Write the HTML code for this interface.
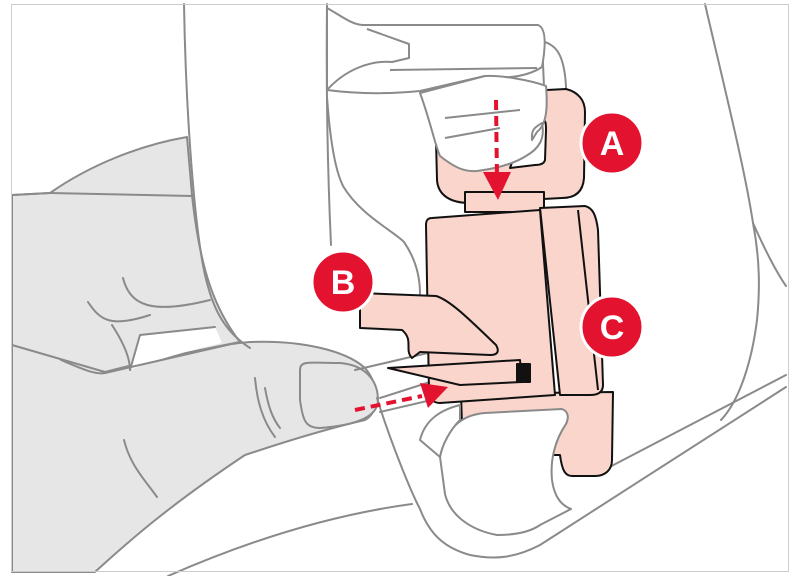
<!DOCTYPE html>
<html><head><style>
html,body{margin:0;padding:0;background:#fff;}
svg{display:block;}
</style></head><body>
<svg width="800" height="576" viewBox="0 0 800 576" xmlns="http://www.w3.org/2000/svg">
<rect x="0" y="0" width="800" height="576" fill="#fff"/>
<!-- hand gray (behind belt) -->
<g stroke="#8a8a8a" stroke-width="2" stroke-linejoin="round" stroke-linecap="round">
  <path fill="#e6e6e6" d="M12 195 L12 572 L95 572 C130 540 170 505 245 455 C290 440 330 428 365 420 C380 412 380 385 365 368 C345 350 300 340 250 342 C210 345 150 360 105 372 L12 340 Z"/>
  <path fill="#e6e6e6" d="M12 195 L12 345 L105 372 C150 360 200 350 240 342 C215 310 200 270 192 195 L187 137 C140 145 90 165 50 193 Z"/>
  <path fill="none" d="M50 193 L192 196"/>
  <path fill="none" d="M12 195 L50 193"/>
  <path fill="#fff" d="M130 370 L140 335 L215 327 L222 343 C200 348 160 358 130 370Z" stroke="none"/>
  <path fill="none" d="M123 278 C130 305 150 315 210 300"/>
  <path fill="none" d="M88 302 C100 320 110 328 150 315"/>
  <path fill="none" d="M112 325 C125 345 130 360 130 370"/>
  <path fill="none" d="M130 370 L140 335 L215 327"/>
  <path fill="none" d="M61 360 C80 368 95 375 105 373 L240 342"/>
  <path fill="#e6e6e6" d="M300 370 C300 360 310 363 340 363 C365 365 378 380 378 400 C378 415 360 425 320 428 C305 428 303 420 300 400Z"/>
  <path fill="none" d="M255 378 C257 400 262 420 275 437"/>
  <path fill="none" d="M265 388 C268 405 272 418 280 428"/>
  <path fill="none" d="M124 440 C130 465 145 480 157 497"/>
</g>
<!-- background seat/belt lines -->
<g fill="none" stroke="#8a8a8a" stroke-width="2" stroke-linecap="round" stroke-linejoin="round">
  <path d="M184 4 C186 120 195 230 205 275 C212 305 222 330 250 348"/>
  <path d="M327 4 C326 100 328 180 331 245"/>
  <path d="M327 97 C330 140 335 170 343 186 C360 215 395 232 404 242 C415 258 420 275 420 294"/>
  <path d="M705 4 C725 90 745 170 753 223 C765 250 775 270 786 286"/>
  <path d="M753 223 C760 260 760 290 757 320 C752 360 740 400 721 420"/>
  <path d="M377 398 C390 440 410 490 420 509 C430 535 445 548 470 555 C495 560 515 558 540 545 L786 387"/>
  <path d="M786 375 L600 472"/>
  <path d="M168 576 C250 540 330 515 412 504"/>
  <path d="M380 398 L430 382"/>
  <path d="M380 412 L440 398"/>
  <path d="M355 370 L432 352"/>
</g>
<!-- upper strap and hand -->
<g fill="#fff" stroke="#8a8a8a" stroke-width="2" stroke-linejoin="round">
  <path d="M542 41 C555 45 564 52 566 86 L566 110 L545 110 Z"/>
  <path d="M327 8 C340 15 352 25 363 25 L538 25 C546 28 546 45 542 67 C530 75 510 80 485 76 L420 91 C380 95 350 93 327 90 Z"/>
  <path fill="none" d="M367 29 L409 44 L409 58 L392 62 C370 60 345 70 327 90"/>
  <path fill="none" d="M390 70 L537 68"/>
</g>
<!-- buckle -->
<g stroke="#111" stroke-width="2" stroke-linejoin="round" fill="#f9d5cc">
  <path d="M450 95 L566 89 C578 92 585 100 585 112 L584 178 C583 192 575 198 562 198 L470 203 C450 203 438 195 437 180 L436 140 C436 115 440 97 450 95Z"/>
  <path fill="#fff" d="M530 119 L542 119 C546 120 546 124 546 130 L545 160 C544 164 540 165 535 165 L510 168 L520 140Z"/>
</g>
<g fill="#fff" stroke="#8a8a8a" stroke-width="2" stroke-linejoin="round">
  <path d="M420 93 C430 120 435 145 440 156 C455 168 465 172 477 171 C500 168 515 163 526 156 C540 148 545 138 542 123 C536 127 531 128 532 140 L537 132 C546 125 548 110 546 86 C530 80 500 75 485 76 Z"/>
  <path fill="none" d="M445 118 L520 110"/>
  <path fill="none" d="M445 138 L500 128"/>
</g>
<g stroke="#111" stroke-width="2" stroke-linejoin="round" fill="#f9d5cc">
  <path d="M461 394 L613 392 L612 460 C612 470 605 476 595 476 L572 476 C565 476 562 470 560 455 L463 455 Z"/>
  <rect x="465" y="192" width="79" height="20"/>
  <path d="M540 208 L585 206 C593 208 596 215 598 230 L603 385 C603 392 598 395 590 395 L560 395 Z"/>
  <path d="M432 218 L540 210 L555 395 L440 403 C433 403 429 398 429 392 L426 225 C426 220 428 218 432 218Z"/>
  <path fill="none" d="M578 210 L598 390"/>
  <path d="M360 293 L436 296 C450 300 470 320 496 345 C500 352 497 355 490 355 L420 352 L412 358 C404 350 414 340 402 330 L360 328 Z"/>
  <path d="M388 368 L520 360 L522 382 L460 385 Z"/>
  <rect x="517" y="364" width="13" height="18" fill="#111"/>
</g>
<!-- lower white blob -->
<g fill="#fff" stroke="#8a8a8a" stroke-width="2" stroke-linejoin="round">
  <path d="M440 457 C445 430 460 415 485 413 L562 409 C570 412 568 420 566 424 C555 440 550 460 552 480 C554 495 560 505 571 509 L540 525 C530 532 515 535 497 535 C470 530 450 515 445 494 Z"/>
  <path d="M420 440 C425 420 440 410 460 405 L460 420 C450 430 442 445 440 457 Z"/>
</g>
<!-- arrows -->
<g stroke="#e3122f" stroke-width="4" fill="none" stroke-dasharray="10 6">
  <path d="M496 100 L497 180"/>
  <path d="M355 410 L422 396"/>
</g>
<g fill="#e3122f">
  <polygon points="483,172 511,172 498,200"/>
  <polygon points="420,383 448,387 428,408"/>
</g>
<!-- labels -->
<g font-family="Liberation Sans, sans-serif" font-weight="bold" font-size="34" fill="#fff" text-anchor="middle">
  <circle cx="612" cy="143" r="31" fill="#e3122f" stroke="#fff" stroke-width="3"/>
  <text x="612" y="155">A</text>
  <circle cx="343" cy="282" r="31" fill="#e3122f" stroke="#fff" stroke-width="3"/>
  <text x="343" y="294">B</text>
  <circle cx="612" cy="327" r="31" fill="#e3122f" stroke="#fff" stroke-width="3"/>
  <text x="612" y="339">C</text>
</g>
<rect x="11.5" y="4.5" width="777" height="567" fill="none" stroke="#ccc" stroke-width="1"/>
</svg>
</body></html>
